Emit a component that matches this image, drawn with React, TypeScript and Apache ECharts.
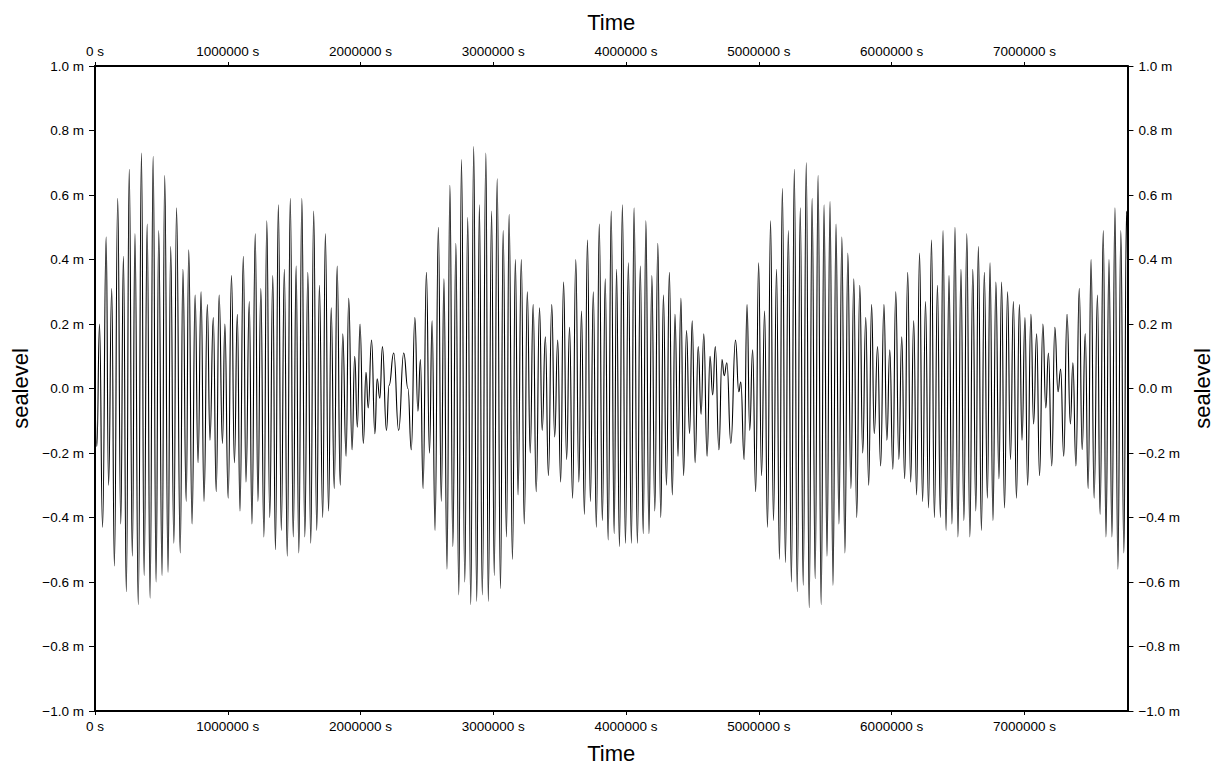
import React, { useEffect, useRef } from "react";
import * as echarts from "echarts";

// Time of each turning point, in kiloseconds, and the sea level there (m)
const seg1Ks = [0, 14, 34, 57, 84, 102, 126, 146, 171, 194, 214, 236, 258, 281, 301, 326, 350, 370, 393, 415, 438, 460, 480, 505, 525, 550, 570, 594, 614, 642, 662, 687, 706, 731, 754, 776, 799, 821, 846, 866, 891, 913, 935, 960, 978];
const seg1Level = [-0.02, -0.18, 0.20, -0.43, 0.47, -0.30, 0.31, -0.55, 0.59, -0.42, 0.41, -0.63, 0.68, -0.52, 0.48, -0.67, 0.73, -0.58, 0.51, -0.65, 0.72, -0.60, 0.49, -0.58, 0.66, -0.57, 0.44, -0.48, 0.56, -0.51, 0.37, -0.35, 0.43, -0.42, 0.29, -0.23, 0.30, -0.35, 0.26, -0.16, 0.22, -0.32, 0.29, -0.17, 0.20];

const seg2Ks = [1003, 1028, 1050, 1072, 1092, 1117, 1137, 1162, 1182, 1207, 1227, 1249, 1272, 1294, 1316, 1339, 1359, 1381, 1403, 1426, 1448, 1471, 1493, 1515, 1535, 1558, 1580, 1603, 1625, 1647, 1670, 1690, 1715, 1735, 1759, 1779, 1802, 1824, 1847, 1866, 1891, 1911, 1936, 1956];
const seg2Level = [-0.34, 0.35, -0.23, 0.23, -0.38, 0.41, -0.29, 0.27, -0.42, 0.48, -0.35, 0.31, -0.46, 0.52, -0.40, 0.35, -0.50, 0.57, -0.44, 0.37, -0.52, 0.59, -0.46, 0.38, -0.51, 0.59, -0.46, 0.36, -0.48, 0.55, -0.44, 0.32, -0.40, 0.48, -0.38, 0.25, -0.31, 0.38, -0.30, 0.17, -0.21, 0.28, -0.19, 0.10];

const seg3Ks = [1976, 1996, 2021, 2041, 2058, 2083, 2108, 2125, 2145, 2165, 2195, 2215, 2250, 2287, 2325, 2357, 2382, 2409, 2432, 2451, 2471, 2496, 2519, 2539, 2561, 2586, 2608, 2628, 2651, 2673, 2695, 2718, 2740, 2760, 2785, 2807, 2830, 2852, 2875, 2895, 2917];
const seg3Level = [-0.12, 0.20, -0.17, 0.05, -0.06, 0.15, -0.14, 0.03, -0.03, 0.13, -0.13, 0.01, 0.11, -0.13, 0.11, 0.00, -0.19, 0.22, -0.07, 0.09, -0.31, 0.36, -0.20, 0.21, -0.44, 0.50, -0.35, 0.34, -0.56, 0.63, -0.49, 0.45, -0.64, 0.71, -0.60, 0.53, -0.67, 0.75, -0.66, 0.57, -0.64];

const seg4Ks = [2944, 2962, 2987, 3007, 3029, 3054, 3074, 3099, 3119, 3144, 3166, 3186, 3211, 3233, 3256, 3278, 3300, 3323, 3348, 3368, 3392, 3415, 3440, 3462, 3485, 3507, 3529, 3552, 3574, 3597, 3621, 3644, 3664, 3686, 3709, 3731, 3753, 3776, 3798, 3821, 3843, 3865, 3888, 3910];
const seg4Level = [0.73, -0.66, 0.55, -0.58, 0.65, -0.62, 0.49, -0.46, 0.54, -0.53, 0.40, -0.33, 0.40, -0.42, 0.30, -0.20, 0.26, -0.32, 0.25, -0.13, 0.16, -0.27, 0.26, -0.15, 0.15, -0.29, 0.33, -0.22, 0.19, -0.34, 0.40, -0.29, 0.24, -0.39, 0.46, -0.35, 0.30, -0.43, 0.51, -0.41, 0.34, -0.47, 0.55, -0.45];

const seg5Ks = [3928, 3950, 3972, 3995, 4017, 4040, 4060, 4085, 4107, 4129, 4149, 4172, 4194, 4216, 4239, 4261, 4281, 4304, 4326, 4348, 4368, 4391, 4413, 4433, 4455, 4478, 4498, 4520, 4543, 4565, 4585, 4610, 4632, 4652, 4672, 4699, 4722, 4739, 4759, 4789, 4824, 4849, 4864, 4889];
const seg5Level = [0.37, -0.49, 0.57, -0.48, 0.39, -0.48, 0.56, -0.48, 0.38, -0.45, 0.52, -0.45, 0.35, -0.38, 0.45, -0.40, 0.29, -0.30, 0.36, -0.33, 0.23, -0.21, 0.28, -0.27, 0.18, -0.14, 0.21, -0.23, 0.13, -0.08, 0.17, -0.21, 0.10, -0.02, 0.13, -0.19, 0.09, 0.04, 0.08, -0.17, 0.15, -0.01, 0.02, -0.22];

const seg6Ks = [4911, 4931, 4953, 4976, 4998, 5020, 5043, 5065, 5088, 5110, 5133, 5155, 5177, 5200, 5222, 5245, 5267, 5289, 5312, 5334, 5357, 5379, 5401, 5424, 5446, 5469, 5491, 5513, 5536, 5558, 5581, 5603, 5625, 5648, 5670, 5693, 5715, 5737, 5760, 5782, 5805, 5827, 5849, 5869];
const seg6Level = [0.26, -0.13, 0.12, -0.32, 0.39, -0.27, 0.24, -0.43, 0.52, -0.41, 0.37, -0.53, 0.62, -0.54, 0.49, -0.60, 0.68, -0.63, 0.56, -0.61, 0.70, -0.68, 0.59, -0.59, 0.66, -0.67, 0.57, -0.52, 0.58, -0.61, 0.51, -0.42, 0.47, -0.51, 0.42, -0.31, 0.34, -0.40, 0.32, -0.20, 0.22, -0.30, 0.26, -0.14];

const seg7Ks = [5894, 5917, 5942, 5964, 5986, 6009, 6031, 6054, 6076, 6098, 6121, 6143, 6166, 6188, 6210, 6233, 6255, 6278, 6300, 6322, 6345, 6367, 6387, 6410, 6432, 6454, 6477, 6499, 6522, 6544, 6566, 6589, 6611, 6634, 6653, 6676, 6698, 6721, 6741, 6763, 6785, 6808, 6828, 6850];
const seg7Level = [0.13, -0.24, 0.26, -0.16, 0.12, -0.25, 0.30, -0.22, 0.16, -0.28, 0.36, -0.29, 0.21, -0.33, 0.42, -0.35, 0.27, -0.37, 0.46, -0.40, 0.32, -0.40, 0.49, -0.44, 0.35, -0.42, 0.50, -0.46, 0.37, -0.41, 0.48, -0.46, 0.37, -0.38, 0.44, -0.44, 0.36, -0.34, 0.39, -0.41, 0.33, -0.28, 0.33, -0.37];

const seg8Ks = [6873, 6895, 6917, 6940, 6962, 6982, 7004, 7024, 7049, 7069, 7092, 7114, 7139, 7161, 7181, 7206, 7229, 7253, 7273, 7296, 7321, 7346, 7365, 7388, 7413, 7435, 7458, 7480, 7502, 7525, 7550, 7570, 7594, 7614, 7637, 7659, 7682, 7704, 7726, 7749, 7769, 7776];
const seg8Level = [0.30, -0.22, 0.27, -0.34, 0.26, -0.16, 0.22, -0.30, 0.23, -0.11, 0.17, -0.27, 0.20, -0.06, 0.11, -0.24, 0.19, -0.01, 0.06, -0.21, 0.23, -0.11, 0.08, -0.24, 0.31, -0.19, 0.17, -0.31, 0.40, -0.34, 0.29, -0.39, 0.49, -0.46, 0.40, -0.46, 0.56, -0.56, 0.49, -0.51, 0.55, 0.40];

const TIME_MAX = 7776000; // s
const TIME_STEP = 1000000; // s
const LEVEL_MIN = -1.0;
const LEVEL_MAX = 1.0;
const LEVEL_STEP = 0.2;
const AXIS_TITLE_X = "Time";
const AXIS_TITLE_Y = "sealevel";

const FONT = "'Liberation Sans', Arial, Helvetica, sans-serif";

export default function App() {
  const ref = useRef<HTMLDivElement>(null);

  useEffect(() => {
    if (!ref.current) return;
    const chart = echarts.init(ref.current, null, { renderer: "svg" });

    const segs: [number[], number[]][] = [
      [seg1Ks, seg1Level],
      [seg2Ks, seg2Level],
      [seg3Ks, seg3Level],
      [seg4Ks, seg4Level],
      [seg5Ks, seg5Level],
      [seg6Ks, seg6Level],
      [seg7Ks, seg7Level],
      [seg8Ks, seg8Level],
    ];
    const data: [number, number][] = [];
    segs.forEach(([ks, lv]) => {
      ks.forEach((k, i) => data.push([k * 1000, lv[i]]));
    });

    const fmtX = (v: number) => (Math.abs(v % TIME_STEP) < 1e-6 ? `${v} s` : "");
    const fmtY = (v: number) => {
      const r = Math.abs(v) < 1e-9 ? 0 : v;
      return `${r.toFixed(1).replace("-", "\u2212")} m`;
    };

    const lineStyle = { color: "#000", width: 2 };
    const tickStyle = { color: "#000", width: 1 };
    const labelStyle = { color: "#000", fontSize: 13.5, fontFamily: FONT };
    const nameStyle = { color: "#000", fontSize: 22, fontFamily: FONT };

    const xAxisBase = {
      type: "value" as const,
      min: 0,
      max: TIME_MAX,
      interval: TIME_STEP,
      name: AXIS_TITLE_X,
      nameLocation: "middle" as const,
      nameTextStyle: nameStyle,
      axisLine: { show: true, onZero: false, lineStyle },
      axisTick: { show: true, length: 4, inside: false, lineStyle: tickStyle },
      axisLabel: { formatter: fmtX, margin: 8, showMaxLabel: false, ...labelStyle },
      splitLine: { show: false },
    };
    const yAxisBase = {
      type: "value" as const,
      min: LEVEL_MIN,
      max: LEVEL_MAX,
      interval: LEVEL_STEP,
      name: AXIS_TITLE_Y,
      nameLocation: "middle" as const,
      nameGap: 62,
      nameTextStyle: nameStyle,
      axisLine: { show: true, onZero: false, lineStyle },
      axisTick: { show: true, length: 6, inside: false, lineStyle: tickStyle },
      axisLabel: { formatter: fmtY, margin: 11, ...labelStyle },
      splitLine: { show: false },
    };

    chart.setOption({
      animation: false,
      backgroundColor: "#fff",
      grid: { left: 95, right: 85, top: 66, bottom: 52, containLabel: false },
      xAxis: [
        { ...xAxisBase, position: "bottom", nameGap: 31 },
        { ...xAxisBase, position: "top", nameGap: 33 },
      ],
      yAxis: [
        { ...yAxisBase, position: "left" },
        { ...yAxisBase, position: "right" },
      ],
      series: [
        {
          type: "line",
          xAxisIndex: 0,
          yAxisIndex: 0,
          data,
          showSymbol: false,
          smooth: 0.5,
          smoothMonotone: "x",
          silent: true,
          clip: true,
          lineStyle: { color: "#000", width: 1.1 },
        },
      ],
    });

    return () => chart.dispose();
  }, []);

  return (
    <div
      ref={ref}
      style={{ position: "absolute", left: 0, top: 0, width: 1221, height: 769, background: "#fff" }}
    />
  );
}
